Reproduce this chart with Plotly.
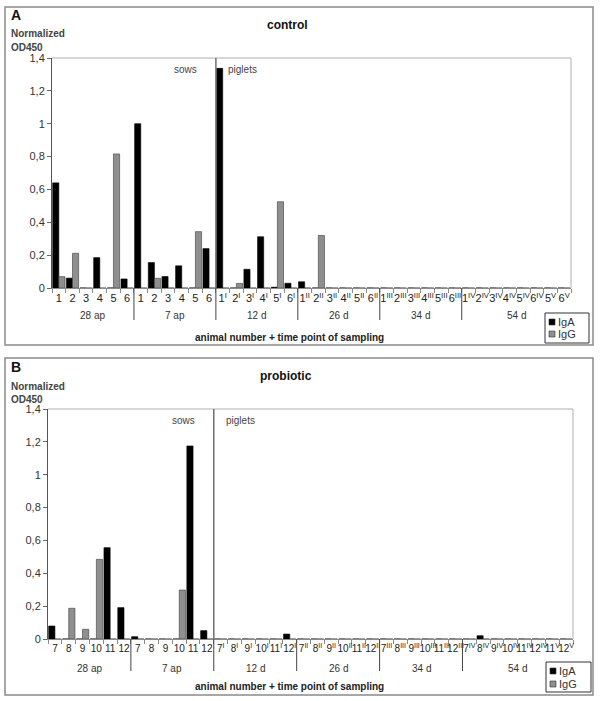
import plotly.graph_objects as go

# ---------------- data ----------------
groups = ["28 ap", "7 ap", "12 d", "26 d", "34 d", "54 d"]
group_sizes = [6, 6, 6, 6, 6, 8]

ticks_A = ["1", "2", "3", "4", "5", "6",
           "1", "2", "3", "4", "5", "6",
           "1<sup>I</sup>", "2<sup>I</sup>", "3<sup>I</sup>", "4<sup>I</sup>", "5<sup>I</sup>", "6<sup>I</sup>",
           "1<sup>II</sup>", "2<sup>II</sup>", "3<sup>II</sup>", "4<sup>II</sup>", "5<sup>II</sup>", "6<sup>II</sup>",
           "1<sup>III</sup>", "2<sup>III</sup>", "3<sup>III</sup>", "4<sup>III</sup>", "5<sup>III</sup>", "6<sup>III</sup>",
           "1<sup>IV</sup>", "2<sup>IV</sup>", "3<sup>IV</sup>", "4<sup>IV</sup>", "5<sup>IV</sup>", "6<sup>IV</sup>",
           "5<sup>V</sup>", "6<sup>V</sup>"]
iga_A = [0.64, 0.06, 0, 0.185, 0, 0.055,
         1.0, 0.155, 0.07, 0.135, 0, 0.24,
         1.337, 0, 0.114, 0.312, 0.005, 0.029,
         0.038, 0, 0, 0, 0, 0,
         0, 0, 0, 0, 0, 0,
         0, 0, 0, 0, 0, 0, 0, 0]
igg_A = [0.069, 0.211, 0, 0, 0.816, 0,
         0, 0.059, 0, 0, 0.343, 0,
         0, 0.028, 0, 0, 0.525, 0,
         0, 0.32, 0, 0, 0, 0,
         0, 0, 0, 0, 0, 0,
         0, 0, 0, 0, 0, 0, 0, 0]

ticks_B = ["7", "8", "9", "10", "11", "12",
           "7", "8", "9", "10", "11", "12",
           "7<sup>I</sup>", "8<sup>I</sup>", "9<sup>I</sup>", "10<sup>I</sup>", "11<sup>I</sup>", "12<sup>I</sup>",
           "7<sup>II</sup>", "8<sup>II</sup>", "9<sup>II</sup>", "10<sup>II</sup>", "11<sup>II</sup>", "12<sup>II</sup>",
           "7<sup>III</sup>", "8<sup>III</sup>", "9<sup>III</sup>", "10<sup>III</sup>", "11<sup>III</sup>", "12<sup>III</sup>",
           "7<sup>IV</sup>", "8<sup>IV</sup>", "9<sup>IV</sup>", "10<sup>IV</sup>", "11<sup>IV</sup>", "12<sup>IV</sup>",
           "11<sup>V</sup>", "12<sup>V</sup>"]
iga_B = [0.079, 0, 0, 0, 0.556, 0.191,
         0.014, 0, 0, 0, 1.175, 0.051,
         0, 0, 0, 0, 0, 0.03,
         0, 0, 0, 0, 0, 0,
         0, 0, 0, 0, 0, 0,
         0, 0.02, 0, 0, 0, 0, 0, 0]
igg_B = [0, 0.187, 0.059, 0.485, 0, 0,
         0, 0, 0, 0.298, 0, 0,
         0, 0, 0, 0, 0, 0,
         0, 0, 0, 0, 0, 0,
         0, 0, 0, 0, 0, 0,
         0, 0, 0, 0, 0, 0, 0, 0]

y_ticks = [0, 0.2, 0.4, 0.6, 0.8, 1.0, 1.2, 1.4]
y_tick_labels = ["0", "0,2", "0,4", "0,6", "0,8", "1", "1,2", "1,4"]
series_names = ["IgA", "IgG"]
series_colors = ["#000000", "#8f8f8f"]

# ---------------- layout helpers ----------------
W, H = 600, 701
def px(x): return x / W
def py(y): return 1 - y / H

FONT = "Liberation Sans, Arial, sans-serif"
fig = go.Figure()

panels = [
    dict(ticks=ticks_A, iga=iga_A, igg=igg_A, xa="x", ya="y", xdom=[px(52), px(571)],
         ydom=[py(288), py(58)], frame=(7, 345), letter="A", letter_y=15, norm_y=34, od_y=47,
         title="control", title_x=287, title_y=25, grp_y=315, axt_y=337, tickfont=11,
         leg=(545, 589, 313, 343), sw=(549, 322, 334), bottom_px=288),
    dict(ticks=ticks_B, iga=iga_B, igg=igg_B, xa="x2", ya="y2", xdom=[px(48), px(573)],
         ydom=[py(639), py(409)], frame=(358, 695), letter="B", letter_y=367, norm_y=386, od_y=399,
         title="probiotic", title_x=286, title_y=376, grp_y=668, axt_y=686, tickfont=10,
         leg=(546, 591, 662, 692), sw=(550, 671, 684), bottom_px=639),
]

shapes = []
annotations = []
layout_axes = {}


def ann(**kw):
    kw.setdefault("showarrow", False)
    kw.setdefault("xanchor", "center")
    kw.setdefault("yanchor", "middle")
    kw.setdefault("borderpad", 0)
    annotations.append(kw)


for k, p in enumerate(panels):
    n = len(p["ticks"])
    idx = list(range(n))
    for name, vals, col in zip(series_names, [p["iga"], p["igg"]], series_colors):
        fig.add_trace(go.Bar(
            x=idx, y=vals, name=name, xaxis=p["xa"], yaxis=p["ya"], showlegend=False,
            marker=dict(color=col, line=dict(color="#000000" if name == "IgA" else "#3c3c3c", width=0.6)),
        ))
    xkey = "xaxis" if k == 0 else "xaxis2"
    ykey = "yaxis" if k == 0 else "yaxis2"
    layout_axes[xkey] = dict(
        domain=p["xdom"], anchor=p["ya"], range=[-0.5, n - 0.5],
        tickmode="array", tickvals=idx, ticktext=p["ticks"], tickangle=0, ticks="",
        showline=True, linecolor="#8a8a8a", linewidth=1, showgrid=False, zeroline=False,
        tickfont=dict(size=p["tickfont"], color="#222222"), automargin=False,
        minor=dict(tickmode="array", tickvals=[i - 0.5 for i in range(n + 1)], ticks="outside",
                   ticklen=4, tickcolor="#8a8a8a", tickwidth=1, showgrid=False),
        fixedrange=True,
    )
    layout_axes[ykey] = dict(
        domain=p["ydom"], anchor=p["xa"], range=[0, 1.4],
        tickmode="array", tickvals=y_ticks, ticktext=y_tick_labels, automargin=False,
        ticks="outside", ticklen=4, tickcolor="#666666", showline=True, linecolor="#555555",
        linewidth=1, showgrid=False, zeroline=False, tickfont=dict(size=11, color="#333333"),
        fixedrange=True,
    )
    xref = p["xa"]
    yref = p["ya"]
    # plot area top/right border
    shapes.append(dict(type="line", xref=xref + " domain", yref=yref + " domain", x0=0, x1=1, y0=1, y1=1,
                       line=dict(color="#b0b0b0", width=1)))
    shapes.append(dict(type="line", xref=xref + " domain", yref=yref + " domain", x0=1, x1=1, y0=0, y1=1,
                       line=dict(color="#b0b0b0", width=1)))
    # panel frame
    shapes.append(dict(type="rect", xref="paper", yref="paper", x0=px(5), x1=px(593),
                       y0=py(p["frame"][1]), y1=py(p["frame"][0]),
                       line=dict(color="#8a8a8a", width=1.5)))
    # group labels and dividers
    start = 0
    bounds = []
    for g, s in zip(groups, group_sizes):
        ann(x=start + (s - 1) / 2, y=py(p["grp_y"]), xref=xref, yref="paper",
            text=g, font=dict(size=10, color="#333333"))
        start += s
        bounds.append(start - 0.5)
    for b in bounds[:-1]:
        shapes.append(dict(type="line", xref=xref, yref="paper", x0=b, x1=b,
                           y0=py(p["bottom_px"]), y1=py(p["bottom_px"] + 32),
                           line=dict(color="#444444", width=1)))
    # sows / piglets divider
    n_sows = group_sizes[0] + group_sizes[1]
    shapes.append(dict(type="line", xref=xref, yref=yref, x0=n_sows - 0.5, x1=n_sows - 0.5, y0=0, y1=1.4,
                       line=dict(color="#707070", width=1.5)))
    ann(x=n_sows - 0.5, y=1.33, xref=xref, yref=yref, text="sows",
        xanchor="right", xshift=-18, font=dict(size=10, color="#444444"))
    ann(x=n_sows - 0.5, y=1.33, xref=xref, yref=yref, text="piglets",
        xanchor="left", xshift=11, font=dict(size=10, color="#444444"))
    # titles
    ann(x=px(10), y=py(p["letter_y"]), xref="paper", yref="paper", text="<b>%s</b>" % p["letter"],
        xanchor="left", font=dict(size=14, color="#111111"))
    ann(x=px(10), y=py(p["norm_y"]), xref="paper", yref="paper", text="<b>Normalized</b>",
        xanchor="left", font=dict(size=10, color="#444444"))
    ann(x=px(10), y=py(p["od_y"]), xref="paper", yref="paper", text="<b>OD450</b>",
        xanchor="left", font=dict(size=10, color="#444444"))
    ann(x=px(p["title_x"]), y=py(p["title_y"]), xref="paper", yref="paper",
        text="<b>%s</b>" % p["title"], font=dict(size=12, color="#111111"))
    ann(x=px(289), y=py(p["axt_y"]), xref="paper", yref="paper",
        text="<b>animal number + time point of sampling</b>", font=dict(size=10, color="#222222"))
    # legend box
    lx0, lx1, ly0, ly1 = p["leg"]
    shapes.append(dict(type="rect", xref="paper", yref="paper", x0=px(lx0), x1=px(lx1), y0=py(ly1), y1=py(ly0),
                       line=dict(color="#333333", width=1), fillcolor="white", layer="below"))
    sx, sy1, sy2 = p["sw"]
    for name, col, sy in zip(series_names, series_colors, [sy1, sy2]):
        shapes.append(dict(type="rect", xref="paper", yref="paper", x0=px(sx), x1=px(sx + 6),
                           y0=py(sy + 3), y1=py(sy - 3), fillcolor=col,
                           line=dict(color="#333333", width=0.6), layer="above"))
        ann(x=px(sx + 8), y=py(sy), xref="paper", yref="paper", text=name,
            xanchor="left", font=dict(size=11, color="#333333"))

fig.update_layout(
    width=W, height=H, margin=dict(l=0, r=0, t=0, b=0, pad=0, autoexpand=False),
    paper_bgcolor="white", plot_bgcolor="white",
    font=dict(family=FONT, color="#222222"),
    barmode="group", bargap=0.1, bargroupgap=0,
    shapes=shapes, annotations=annotations, showlegend=False,
    **layout_axes,
)

fig.write_html(
    "out.html",
    config={"displayModeBar": False},
    post_script="document.body.style.margin='0';document.body.style.overflow='hidden';",
)
